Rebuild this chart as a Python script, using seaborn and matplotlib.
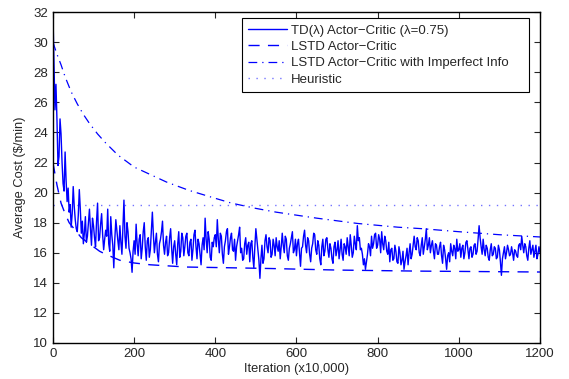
import numpy as np
import matplotlib
matplotlib.use("Agg")
import matplotlib.pyplot as plt
import seaborn as sns

# TD(lambda) actor-critic, read every 5 iterations (x10,000) ...
td_iter = np.arange(0, 1201, 5)
td_cost = [
    32.0, 25.5, 24.8, 22.4, 23.9, 20.6, 22.7, 19.4, 18.7, 17.7, 20.4, 18.2, 17.4, 20.2, 17.3, 16.6, 18.4, 17.1, 18.9, 16.5,
    17.8, 16.4, 19.3, 17.0, 18.6, 16.2, 17.5, 18.9, 16.1, 17.2, 15.0, 18.2, 16.8, 17.8, 15.9, 19.5, 16.3, 17.4, 16.0, 14.7,
    16.8, 17.9, 15.8, 17.2, 16.3, 18.0, 15.5, 17.0, 16.2, 18.7, 16.0, 17.3, 15.4, 16.9, 18.1, 15.9, 17.1, 16.0, 17.6, 15.3,
    16.8, 15.2, 17.4, 16.1, 17.0, 16.4, 17.3, 15.8, 16.9, 16.2, 17.5, 15.6, 16.6, 15.2, 17.0, 18.3, 16.0, 16.9, 15.5, 16.4,
    17.2, 18.2, 16.0, 17.1, 15.3, 16.8, 17.6, 16.4, 17.3, 16.1, 15.5, 16.8, 17.7, 16.3, 15.6, 17.0, 16.5, 15.4, 16.8, 15.0,
    17.6, 16.2, 14.3, 16.5, 15.6, 17.2, 16.0, 16.8, 15.9, 16.5, 17.0, 16.1, 15.6, 17.3, 16.0, 16.9, 15.5, 16.6, 17.4, 16.2,
    15.8, 16.9, 15.1, 16.4, 17.5, 16.0, 16.8, 15.4, 16.6, 17.2, 15.9, 16.5, 15.2, 16.9, 16.1, 17.0, 15.7, 16.3, 15.3, 16.7,
    16.2, 15.6, 16.9, 15.5, 16.4, 17.0, 15.8, 16.5, 16.0, 16.6, 17.8, 17.0, 16.3, 15.2, 14.9, 15.9, 16.4, 17.1, 16.6, 17.3,
    16.5, 16.9, 17.4, 16.2, 16.8, 15.9, 15.4, 16.3, 15.6, 16.1, 15.3, 16.0, 15.5, 14.9, 15.8, 15.2, 16.6, 15.9, 17.1, 16.2,
    16.8, 15.8, 17.0, 16.4, 17.6, 16.5, 16.0, 16.8, 15.6, 16.5, 15.9, 16.7, 15.3, 16.2, 14.9, 16.0, 16.6, 15.8, 16.3, 16.9,
    16.2, 15.7, 16.5, 16.0, 16.8, 15.6, 16.4, 15.9, 16.6, 16.1, 17.8, 16.4, 16.9, 15.8, 16.3, 15.5, 16.6, 15.9, 16.3, 15.7,
    16.2, 14.5, 16.0, 15.6, 16.5, 15.8, 16.4, 15.5, 16.1, 15.7, 16.6, 17.1, 16.0, 16.4, 15.5, 16.8, 16.2, 15.7, 16.5, 15.9,
    16.0,
]
# ... and the samples in between (2.5, 7.5, ...)
td_iter_mid = np.arange(2.5, 1200, 5)
td_cost_mid = [
    28.6, 27.2, 21.8, 24.9, 22.0, 20.1, 20.8, 20.3, 19.2, 18.6, 19.1, 17.6, 18.5, 18.9, 18.1, 17.3, 16.7, 18.0, 17.6, 18.3,
    17.0, 18.1, 16.8, 17.9, 17.2, 16.9, 17.1, 16.6, 18.4, 16.5, 16.9, 17.5, 16.2, 16.7, 17.8, 17.1, 18.0, 16.3, 15.6, 16.1,
    15.9, 16.6, 16.9, 15.6, 17.4, 16.4, 16.8, 15.7, 17.5, 17.2, 16.7, 15.9, 16.6, 17.4, 16.5, 16.7, 15.8, 17.0, 16.3, 16.4,
    15.9, 16.6, 15.7, 17.3, 15.8, 17.1, 16.0, 16.7, 15.5, 17.2, 16.4, 16.9, 15.9, 16.5, 16.2, 16.9, 17.4, 15.7, 16.7, 17.0,
    16.4, 16.9, 17.3, 15.9, 16.4, 17.4, 15.9, 17.0, 16.2, 16.9, 16.4, 17.2, 16.0, 15.5, 16.6, 15.9, 16.7, 16.6, 15.7, 16.4,
    16.9, 15.5, 15.6, 15.3, 16.8, 16.4, 17.0, 15.7, 16.9, 15.8, 16.4, 16.8, 16.4, 16.5, 17.1, 15.8, 16.3, 17.0, 16.0, 16.9,
    16.6, 16.0, 16.3, 17.1, 16.5, 17.0, 15.9, 16.3, 17.3, 16.2, 16.8, 15.6, 16.4, 15.8, 16.9, 16.2, 16.6, 15.6, 16.4, 15.8,
    16.8, 16.2, 15.9, 16.6, 15.9, 16.4, 17.2, 15.7, 17.1, 16.2, 16.8, 16.2, 15.9, 15.6, 15.4, 16.6, 15.8, 16.3, 17.2, 16.3,
    17.2, 16.0, 16.6, 17.1, 16.1, 16.7, 16.2, 15.5, 16.5, 15.4, 16.4, 15.2, 16.1, 15.4, 16.3, 16.0, 15.6, 16.5, 16.4, 17.0,
    16.0, 16.5, 15.9, 16.9, 16.2, 17.0, 16.5, 16.1, 16.6, 15.9, 16.4, 15.8, 16.5, 15.6, 15.8, 15.4, 16.1, 16.5, 15.6, 16.1,
    16.6, 16.3, 15.6, 16.7, 16.2, 16.3, 15.7, 16.5, 15.9, 16.9, 17.0, 15.9, 16.2, 16.5, 15.7, 16.2, 15.8, 16.4, 15.6, 16.5,
    15.4, 15.6, 16.4, 16.0, 16.2, 15.9, 16.0, 16.2, 15.8, 16.5, 16.2, 16.5, 16.6, 15.8, 16.3, 15.9, 16.5, 16.1, 15.6, 16.4,
]

# LSTD actor-critic (smooth curve)
lstd_iter = [0, 10, 20, 30, 40, 55, 70, 85, 100, 115, 130, 165, 200, 240, 330, 440, 540, 700, 900, 1200]
lstd_cost = [22.0, 20.5, 19.3, 18.6, 18.0, 17.5, 17.0, 16.7, 16.4, 16.1, 15.9, 15.5, 15.32, 15.2, 15.05, 15.0,
             14.95, 14.85, 14.78, 14.72]

# LSTD actor-critic with imperfect info
imp_iter = [0, 10, 20, 30, 45, 60, 75, 90, 110, 130, 160, 200, 240, 280, 335, 390, 440, 500, 550, 650,
            750, 850, 910, 1000, 1100, 1200]
imp_cost = [30.0, 29.2, 28.5, 27.7, 26.7, 25.9, 25.2, 24.6, 23.9, 23.3, 22.5, 21.7, 21.2, 20.7, 20.15, 19.7,
            19.3, 18.95, 18.7, 18.3, 17.95, 17.7, 17.6, 17.4, 17.2, 17.05]

# heuristic policy
heur_iter = [0, 1200]
heur_cost = [19.2, 19.2]

sns.set_style("ticks")
plt.rcParams['font.family'] = ['Liberation Sans', 'DejaVu Sans']

fig = plt.figure(figsize=(5.69, 3.79), dpi=100)
ax = fig.add_axes([0.093, 0.095, 0.856, 0.873])

td_x = np.concatenate([td_iter, td_iter_mid])
td_y = np.concatenate([td_cost, td_cost_mid])
sns.lineplot(x=td_x, y=td_y, color='blue', lw=1.0, ax=ax, estimator=None,
             label='TD(λ) Actor\u2212Critic (λ=0.75)')
sns.lineplot(x=lstd_iter, y=lstd_cost, color='blue', lw=1.0, ax=ax,
             linestyle=(0, (8, 6)), label='LSTD Actor\u2212Critic')
sns.lineplot(x=imp_iter, y=imp_cost, color='blue', lw=0.9, ax=ax,
             linestyle=(0, (7, 4, 1, 4)), label='LSTD Actor\u2212Critic with Imperfect Info')
sns.lineplot(x=heur_iter, y=heur_cost, color='blue', lw=1.0, alpha=0.55, ax=ax,
             linestyle=(0, (1, 4.7)), label='Heuristic')

ax.set_xlim(0, 1200)
ax.set_ylim(10, 32)
ax.set_xticks(np.arange(0, 1201, 200))
ax.set_yticks(np.arange(10, 33, 2))
ax.tick_params(direction='in', top=True, right=True, labelsize=9.5, length=4, width=0.8)
for s in ax.spines.values():
    s.set_linewidth(1.0)
    s.set_color('black')

ax.set_xlabel('Iteration (x10,000)', fontsize=9.3, labelpad=2)
ax.set_ylabel('Average Cost (\\$/min)', fontsize=9.3, labelpad=5)

# MATLAB-style legend box, stretched to the reference width
leg = ax.legend(loc='upper left', bbox_to_anchor=(0.388, 0.757, 0.589, 0.225), mode='expand',
                fontsize=9.5, fancybox=False, framealpha=1, edgecolor='black', handlelength=2.9,
                handletextpad=0.3, borderaxespad=0, labelspacing=0.3, borderpad=0.5)
leg.get_frame().set_linewidth(0.8)

fig.savefig('out.png', dpi=100)
